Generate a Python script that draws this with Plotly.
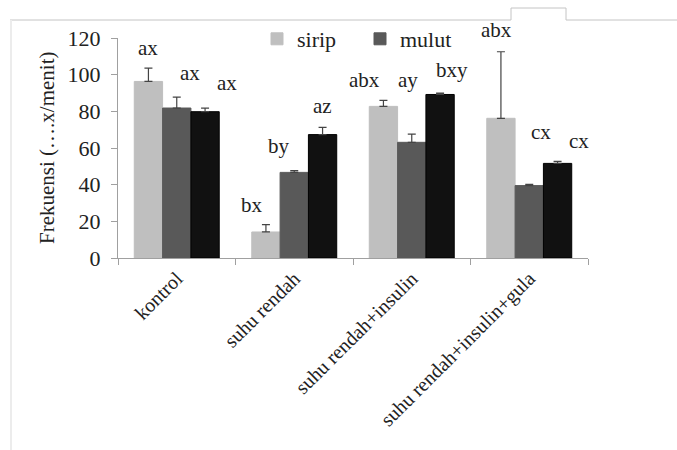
import plotly.graph_objects as go

categories = ["kontrol", "suhu rendah", "suhu rendah+insulin", "suhu rendah+insulin+gula"]
sirip = [96.3, 14.2, 82.7, 76.2]
sirip_err = [7.3, 4.0, 3.3, 36.3]
mulut = [81.8, 46.7, 63.1, 39.5]
mulut_err = [6.0, 1.0, 4.5, 0.7]
ketiga = [79.8, 67.3, 89.2, 51.6]
ketiga_err = [1.9, 4.0, 0.7, 1.1]

sirip_labels = ["ax", "bx", "abx", "abx"]
mulut_labels = ["ax", "by", "ay", "cx"]
ketiga_labels = ["ax", "az", "bxy", "cx"]
# heights (y) at which letters are drawn
sirip_label_y = [114.5, 28.7, 97.3, 124.5]
mulut_label_y = [100.9, 60.9, 97.3, 68.5]
ketiga_label_y = [95.5, 82.7, 102.4, 63.6]

FONT = "Liberation Serif, Times New Roman, serif"
W, H = 677, 450
L, R, T, B = 118, 89, 38, 192
PW, PH = W - L - R, H - T - B
YMAX = 120


def px(x):
    return (x - L) / PW


def py(y):
    return (H - B - y) / PH


fig = go.Figure()
series = [
    ("sirip", sirip, sirip_err, "#bfbfbf", "#bfbfbf", True),
    ("mulut", mulut, mulut_err, "#595959", "#595959", True),
    ("", ketiga, ketiga_err, "#111111", "#000000", False),
]
for name, vals, err, col, lcol, show in series:
    fig.add_trace(go.Bar(
        x=categories, y=vals, name=name, showlegend=show,
        marker=dict(color=col, line=dict(color=lcol, width=1)),
        error_y=dict(type="data", array=err, arrayminus=[0] * len(err),
                     symmetric=False, color="#444444", thickness=1.2, width=4),
    ))

bar_w = 0.241
offsets = [-bar_w, 0.0, bar_w]
# small horizontal nudges of the letters, in category units
nudges = [
    [0.0, -0.12, -0.16, -0.04],
    [0.11, -0.13, -0.03, 0.10],
    [0.19, 0.0, 0.10, 0.18],
]
annos = []
for s, (labs, ys) in enumerate([(sirip_labels, sirip_label_y),
                                 (mulut_labels, mulut_label_y),
                                 (ketiga_labels, ketiga_label_y)]):
    for i, (t, yv) in enumerate(zip(labs, ys)):
        annos.append(dict(x=i + offsets[s] + nudges[s][i], y=yv / YMAX, xref="x", yref="paper",
                          xanchor="center", yanchor="middle",
                          text=t, showarrow=False,
                          font=dict(family=FONT, size=21, color="#222222")))

annos.append(dict(x=px(47), y=py(148), xref="paper", yref="paper",
                  xanchor="center", yanchor="middle",
                  text="Frekuensi (….x/menit)", textangle=-90, showarrow=False,
                  font=dict(family=FONT, size=21, color="#222222")))

frame = "#c4c4c4"
shapes = [
    dict(type="line", xref="paper", yref="paper", x0=px(10), x1=px(511), y0=py(20), y1=py(20),
         line=dict(color=frame, width=1)),
    dict(type="path", xref="paper", yref="paper",
         path=f"M {px(511)} {py(20)} L {px(511)} {py(8)} L {px(566)} {py(8)} L {px(566)} {py(20)} L {px(677)} {py(20)}",
         line=dict(color=frame, width=1)),
    dict(type="line", xref="paper", yref="paper", x0=px(11), x1=px(11), y0=py(20), y1=py(450),
         line=dict(color="#ececec", width=2)),
]

fig.update_layout(
    width=W, height=H,
    margin=dict(l=L, r=R, t=T, b=B, pad=0),
    paper_bgcolor="white", plot_bgcolor="white",
    barmode="group", bargap=0.277, bargroupgap=0,
    font=dict(family=FONT, size=21, color="#222222"),
    showlegend=True,
    legend=dict(orientation="h", x=px(257), y=py(18), xanchor="left", yanchor="top",
                bgcolor="rgba(0,0,0,0)", font=dict(family=FONT, size=22, color="#222222"),
                itemwidth=30, entrywidth=58, entrywidthmode="pixels", traceorder="normal"),
    annotations=annos,
    shapes=shapes,
)
fig.update_xaxes(
    type="category", tickson="boundaries", ticks="outside", ticklen=6,
    tickcolor="#a0a0a0", showline=True, linecolor="#a0a0a0", linewidth=1,
    tickangle=-45, showgrid=False, tickfont=dict(family=FONT, size=20, color="#222222"),
    range=[-0.5, 3.5],
)
fig.update_yaxes(
    range=[0, YMAX], tickvals=[0, 20, 40, 60, 80, 100, 120], ticks="outside", ticklen=6,
    tickcolor="#a0a0a0", showline=True, linecolor="#a0a0a0", linewidth=1,
    showgrid=False, zeroline=False, tickfont=dict(family=FONT, size=22, color="#222222"),
    ticklabelstandoff=6,
)
fig.write_html("out.html", config={"displayModeBar": False},
               post_script="document.body.style.margin='0';")
